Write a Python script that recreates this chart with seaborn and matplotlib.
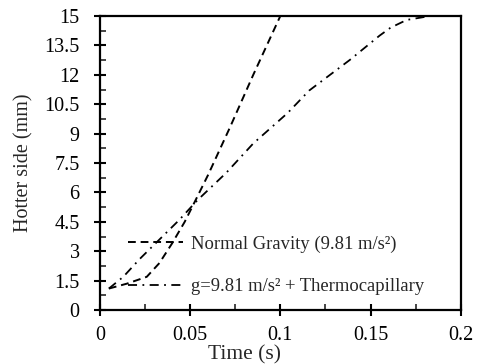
import numpy as np
import pandas as pd
import matplotlib
matplotlib.use("Agg")
import matplotlib.pyplot as plt
import seaborn as sns
from matplotlib.ticker import MultipleLocator

# datos
t_normal = [0.005, 0.015, 0.026, 0.033, 0.040, 0.047, 0.053, 0.060, 0.072, 0.085, 0.100]
h_normal = [1.1, 1.35, 1.7, 2.4, 3.4, 4.5, 5.6, 6.9, 9.3, 12.0, 15.0]

t_thermo = [0.005, 0.013, 0.022, 0.033, 0.044, 0.054, 0.062, 0.070, 0.085,
            0.104, 0.116, 0.1385, 0.155, 0.161, 0.170, 0.183, 0.190]
h_thermo = [1.1, 1.7, 2.6, 3.6, 4.6, 5.6, 6.3, 7.0, 8.5,
            10.05, 11.2, 12.76, 14.0, 14.4, 14.8, 15.0, 15.0]

labels = ["Normal Gravity (9.81 m/s²)", "g=9.81 m/s² + Thermocapillary"]
xticks = ["0", "0.05", "0.1", "0.15", "0.2"]
yticks = ["0", "1.5", "3", "4.5", "6", "7.5", "9", "10.5", "12", "13.5", "15"]

sns.set_style("ticks")
plt.rcParams['font.family'] = ['Liberation Serif', 'DejaVu Serif']

fig = plt.figure(figsize=(4.8, 3.64), dpi=100)
ax = fig.add_axes([0.208, 0.148, 0.752, 0.808])

sns.lineplot(x=t_normal, y=h_normal, ax=ax, color='black', lw=1.4,
             linestyle=(0, (4, 2.5)), label=labels[0], sort=False)
sns.lineplot(x=t_thermo, y=h_thermo, ax=ax, color='black', lw=1.3,
             linestyle=(0, (5, 3, 1, 3)), label=labels[1], sort=False)

ax.set_xlim(0, 0.2)
ax.set_ylim(0, 15)
ax.set_xticks(np.arange(0, 0.201, 0.05))
ax.set_xticklabels(xticks)
ax.set_yticks(np.arange(0, 15.01, 1.5))
ax.set_yticklabels(yticks)
ax.xaxis.set_minor_locator(MultipleLocator(0.025))
ax.yaxis.set_minor_locator(MultipleLocator(0.75))

ax.tick_params(which='major', direction='inout', length=9, width=1.5, labelsize=14.5,
               colors='black')
ax.tick_params(axis='y', which='major', pad=10)
ax.tick_params(axis='x', which='major', pad=7)
ax.tick_params(which='minor', direction='in', length=4, width=1.2)
for s in ax.spines.values():
    s.set_linewidth(1.6)
    s.set_color('black')

ax.set_xlabel("Time (s)", fontsize=15.5, va='top')
ax.xaxis.set_label_coords(0.40, -0.12)
ax.set_ylabel("Hotter side (mm)", fontsize=14.5)
ax.yaxis.set_label_coords(-0.185, 0.5)

ax.legend(loc='upper left', bbox_to_anchor=(0.031, 0.31), frameon=False,
          fontsize=13.4, handlelength=2.95, labelspacing=1.35, handletextpad=0.43)

fig.savefig("out.png", dpi=100)
